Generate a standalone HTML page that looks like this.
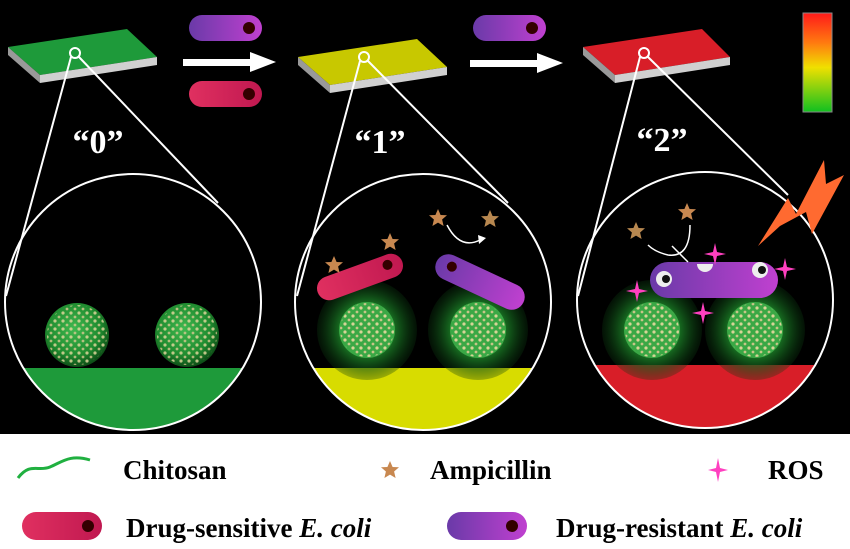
<!DOCTYPE html>
<html><head><meta charset="utf-8"><style>
html,body{margin:0;padding:0;background:#fff;}
svg{display:block;}
text{font-family:"Liberation Serif",serif;font-weight:bold;}
</style></head><body>
<svg width="850" height="549" viewBox="0 0 850 549" xmlns="http://www.w3.org/2000/svg">
<defs>
<radialGradient id="sph" cx="45%" cy="40%" r="60%"><stop offset="0" stop-color="#3fb84f"/><stop offset="0.7" stop-color="#1f8a2e"/><stop offset="1" stop-color="#0d4d16"/></radialGradient>
<pattern id="dots" width="8" height="8" patternUnits="userSpaceOnUse"><circle cx="2" cy="2" r="1.6" fill="#e8d9a0"/><circle cx="6" cy="6" r="1.4" fill="#d8c890"/></pattern>
<radialGradient id="halo" cx="50%" cy="50%" r="50%"><stop offset="0.5" stop-color="#1a7a25"/><stop offset="1" stop-color="#0b3a10" stop-opacity="0.3"/></radialGradient>
<linearGradient id="bar" x1="0" y1="0" x2="0" y2="1"><stop offset="0" stop-color="#ff1a1a"/><stop offset="0.3" stop-color="#ff7a10"/><stop offset="0.55" stop-color="#f0e000"/><stop offset="1" stop-color="#10c020"/></linearGradient>
<linearGradient id="purp" x1="0" y1="0" x2="1" y2="0"><stop offset="0" stop-color="#6a3aa8"/><stop offset="1" stop-color="#c040d0"/></linearGradient>
<linearGradient id="redb" x1="0" y1="0" x2="1" y2="0"><stop offset="0" stop-color="#e03060"/><stop offset="1" stop-color="#c01850"/></linearGradient>
<clipPath id="c1"><circle cx="133" cy="302" r="128"/></clipPath>
<clipPath id="c2"><circle cx="423" cy="302" r="128"/></clipPath>
<clipPath id="c3"><circle cx="705" cy="300" r="128"/></clipPath>
<g id="sphere"><circle r="32" fill="url(#sph)"/><circle r="30" fill="url(#dots)" opacity="0.8"/></g>
<g id="hsphere"><circle r="50" fill="url(#halo)"/><circle r="28" fill="#3aa845"/><circle r="27" fill="url(#dots)" opacity="0.9"/></g>
<path id="star" d="M0,-9 L2.6,-3 9,-2.8 4.1,1.5 5.6,8 0,4.6 -5.6,8 -4.1,1.5 -9,-2.8 -2.6,-3Z"/>
</defs>
<rect x="0" y="0" width="850" height="434" fill="#000"/>
<rect x="0" y="434" width="850" height="115" fill="#fff"/>

<g>
<polygon points="8,47 127,29 157,57 40,75" fill="#1e9a3a"/>
<polygon points="40,75 157,57 157,65 40,83" fill="#d0d0d0"/><polygon points="8,47 40,75 40,83 8,55" fill="#999"/>
<polygon points="298,57 417,39 447,67 330,85" fill="#c8c800"/>
<polygon points="330,85 447,67 447,75 330,93" fill="#d0d0d0"/><polygon points="298,57 330,85 330,93 298,65" fill="#999"/>
<polygon points="583,47 702,29 730,57 615,75" fill="#d81e28"/>
<polygon points="615,75 730,57 730,65 615,83" fill="#d0d0d0"/><polygon points="583,47 615,75 615,83 583,55" fill="#999"/>
</g>

<g stroke="#fff" stroke-width="2" fill="none">
<circle cx="75" cy="53" r="5"/><line x1="71" y1="57" x2="6" y2="296"/><line x1="79" y1="57" x2="218" y2="203"/>
<circle cx="364" cy="57" r="5"/><line x1="360" y1="61" x2="297" y2="296"/><line x1="368" y1="61" x2="508" y2="203"/>
<circle cx="644" cy="53" r="5"/><line x1="640" y1="57" x2="578" y2="296"/><line x1="648" y1="57" x2="788" y2="195"/>
</g>

<rect x="183" y="59" width="70" height="7" fill="#fff"/><polygon points="250,52 276,62 250,72" fill="#fff"/>
<rect x="470" y="60" width="70" height="7" fill="#fff"/><polygon points="537,53 563,63 537,73" fill="#fff"/>

<rect x="189" y="15" width="73" height="26" rx="13" fill="url(#purp)"/><circle cx="249" cy="28" r="6" fill="#300"/>
<rect x="189" y="81" width="73" height="26" rx="13" fill="url(#redb)"/><circle cx="249" cy="94" r="6" fill="#300"/>
<rect x="473" y="15" width="73" height="26" rx="13" fill="url(#purp)"/><circle cx="532" cy="28" r="6" fill="#300"/>

<rect x="803" y="13" width="29" height="99" fill="url(#bar)" stroke="#888" stroke-width="1"/>

<text x="98" y="153" font-size="34" fill="#fff" text-anchor="middle">“0”</text>
<text x="380" y="153" font-size="34" fill="#fff" text-anchor="middle">“1”</text>
<text x="662" y="151" font-size="34" fill="#fff" text-anchor="middle">“2”</text>

<g clip-path="url(#c1)"><rect x="0" y="368" width="270" height="70" fill="#1e9a3a"/></g>
<use href="#sphere" x="77" y="335"/><use href="#sphere" x="187" y="335"/>
<circle cx="133" cy="302" r="128" fill="none" stroke="#fff" stroke-width="2"/>

<g clip-path="url(#c2)"><rect x="290" y="368" width="270" height="70" fill="#d8dc00"/>
<use href="#hsphere" x="367" y="330"/><use href="#hsphere" x="478" y="330"/></g>
<g transform="translate(360,277) rotate(-20)"><rect x="-45" y="-12" width="90" height="24" rx="12" fill="url(#redb)"/><circle cx="30" cy="-2" r="5" fill="#300"/></g>
<g transform="translate(480,282) rotate(25)"><rect x="-48" y="-13" width="96" height="26" rx="13" fill="url(#purp)"/><circle cx="-32" cy="-2" r="5" fill="#300"/></g>
<use href="#star" x="334" y="265" fill="#c88850"/><use href="#star" x="390" y="242" fill="#c88850"/>
<use href="#star" x="438" y="218" fill="#c88850"/><use href="#star" x="490" y="219" fill="#b88850"/>
<path d="M447,225 Q460,250 480,240" stroke="#fff" stroke-width="1.5" fill="none"/><polygon points="478,235 486,238 479,244" fill="#fff"/>
<circle cx="423" cy="302" r="128" fill="none" stroke="#fff" stroke-width="2"/>

<g clip-path="url(#c3)"><rect x="570" y="365" width="270" height="70" fill="#d81e28"/>
<use href="#hsphere" x="652" y="330"/><use href="#hsphere" x="755" y="330"/></g>
<rect x="650" y="262" width="128" height="36" rx="18" fill="url(#purp)"/>
<circle cx="664" cy="279" r="8" fill="#eee"/><circle cx="666" cy="279" r="4" fill="#111"/>
<circle cx="760" cy="270" r="8" fill="#eee"/><circle cx="762" cy="270" r="4" fill="#111"/>
<path d="M697,264 a8,8 0 0 0 16,0z" fill="#eee"/>
<use href="#star" x="636" y="231" fill="#b88850"/><use href="#star" x="687" y="212" fill="#c88850"/>
<path d="M690,225 Q690,258 668,255 Q655,252 648,245" stroke="#fff" stroke-width="1.5" fill="none"/>
<line x1="672" y1="246" x2="688" y2="262" stroke="#fff" stroke-width="1.5"/>
<g fill="#ff40c0">
<path d="M715,243 l2,9 9,2 -9,2 -2,9 -2,-9 -9,-2 9,-2z"/><path d="M637,280 l2,9 9,2 -9,2 -2,9 -2,-9 -9,-2 9,-2z"/>
<path d="M785,258 l2,9 9,2 -9,2 -2,9 -2,-9 -9,-2 9,-2z"/><path d="M703,302 l2,9 9,2 -9,2 -2,9 -2,-9 -9,-2 9,-2z"/>
</g>
<circle cx="705" cy="300" r="128" fill="none" stroke="#fff" stroke-width="2"/>
<polygon points="758,246 788,198 796,214 824,160 826,184 844,175 812,234 806,212 780,226" fill="#ff6a30"/>

<path d="M18,478 C30,462 38,472 50,467 C62,462 70,454 90,460" stroke="#20b040" stroke-width="3" fill="none"/>
<text x="123" y="479" font-size="27" fill="#000">Chitosan</text>
<use href="#star" x="390" y="470" fill="#c88850"/>
<text x="430" y="479" font-size="27" fill="#000">Ampicillin</text>
<path d="M718,458 l2,10 8,2 -8,2 -2,10 -2,-10 -8,-2 8,-2z" fill="#ff40c0"/>
<text x="768" y="479" font-size="27" fill="#000">ROS</text>
<rect x="22" y="512" width="80" height="28" rx="14" fill="url(#redb)"/><circle cx="88" cy="526" r="6" fill="#300"/>
<text x="126" y="537" font-size="27" fill="#000">Drug-sensitive <tspan font-style="italic">E. coli</tspan></text>
<rect x="447" y="512" width="80" height="28" rx="14" fill="url(#purp)"/><circle cx="512" cy="526" r="6" fill="#300"/>
<text x="556" y="537" font-size="27" fill="#000">Drug-resistant <tspan font-style="italic">E. coli</tspan></text>
</svg>
</body></html>
